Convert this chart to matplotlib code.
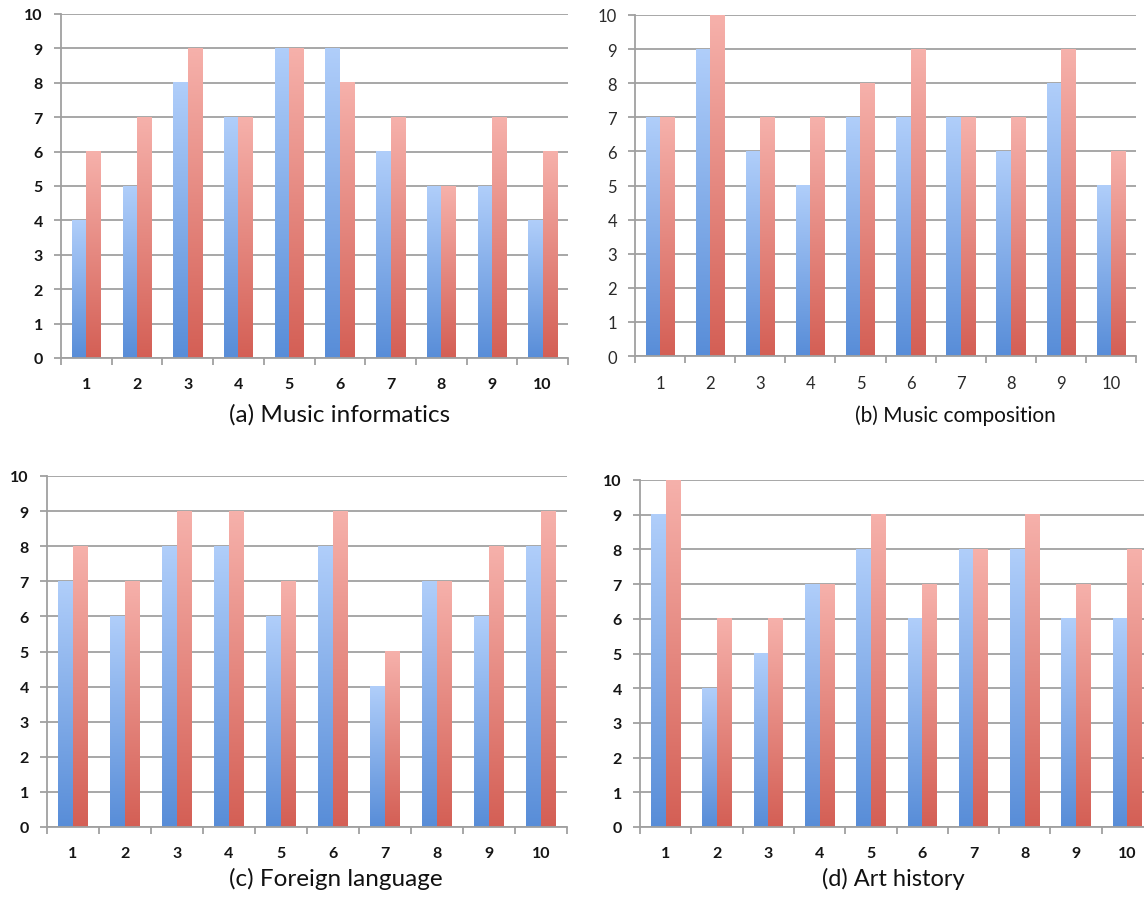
import numpy as np
import matplotlib
matplotlib.use("Agg")
import matplotlib.pyplot as plt
from matplotlib.colors import to_rgb
from matplotlib.ticker import FixedLocator, NullFormatter

# ---- data ----
groups = [1, 2, 3, 4, 5, 6, 7, 8, 9, 10]
captions = ["(a) Music informatics", "(b) Music composition",
            "(c) Foreign language", "(d) Art history"]
a_blue = [4, 5, 8, 7, 9, 9, 6, 5, 5, 4]
a_red = [6, 7, 9, 7, 9, 8, 7, 5, 7, 6]
b_blue = [7, 9, 6, 5, 7, 7, 7, 6, 8, 5]
b_red = [7, 10, 7, 7, 8, 9, 7, 7, 9, 6]
c_blue = [7, 6, 8, 8, 6, 8, 4, 7, 6, 8]
c_red = [8, 7, 9, 9, 7, 9, 5, 7, 8, 9]
d_blue = [9, 4, 5, 7, 8, 6, 8, 8, 6, 6]
d_red = [10, 6, 6, 7, 9, 7, 8, 9, 7, 8]
y_ticks = [0, 1, 2, 3, 4, 5, 6, 7, 8, 9, 10]

W, H = 1144, 903
fig = plt.figure(figsize=(W / 100, H / 100), dpi=100)

def ax_px(left, right, top, bottom):
    return fig.add_axes([left / W, (H - bottom) / H, (right - left) / W, (bottom - top) / H])

BLUE_TOP, BLUE_BOT = to_rgb("#b0cefa"), to_rgb("#588dd8")
RED_TOP, RED_BOT = to_rgb("#f6b1ab"), to_rgb("#d45f55")
GRID = "#a0a0a0"

def gradient(top, bot):
    t = np.linspace(0, 1, 256)[:, None]
    arr = np.zeros((256, 1, 3))
    for k in range(3):
        arr[:, :, k] = bot[k] + (top[k] - bot[k]) * t
    return arr

blue_img = gradient(BLUE_TOP, BLUE_BOT)
red_img = gradient(RED_TOP, RED_BOT)

def panel(ax, blue, red, bold):
    bw = 0.285
    x = np.array(groups, dtype=float)
    bars_b = ax.bar(x - bw / 2, blue, width=bw, facecolor="none", edgecolor="none")
    bars_r = ax.bar(x + bw / 2, red, width=bw, facecolor="none", edgecolor="none")
    for bars, img in ((bars_b, blue_img), (bars_r, red_img)):
        for p in bars:
            x0, y0 = p.get_x(), p.get_y()
            ax.imshow(img, extent=[x0, x0 + p.get_width(), y0, y0 + p.get_height()],
                      origin="lower", aspect="auto", zorder=2, interpolation="bilinear")
    ax.set_xlim(0.5, 10.5)
    ax.set_ylim(0, 10)
    ax.set_aspect("auto")
    ax.set_yticks(y_ticks)
    ax.yaxis.grid(True, color=GRID, linewidth=1.3)
    ax.set_axisbelow(True)
    for s in ("top", "right"):
        ax.spines[s].set_visible(False)
    for s in ("left", "bottom"):
        ax.spines[s].set_color(GRID)
        ax.spines[s].set_linewidth(1.3)
    ax.set_xticks(groups)
    ax.xaxis.set_minor_locator(FixedLocator([g + 0.5 for g in [0] + groups]))
    ax.xaxis.set_minor_formatter(NullFormatter())
    ax.tick_params(axis="x", which="major", length=0, pad=14)
    ax.tick_params(axis="x", which="minor", length=5, width=1.3, color=GRID, direction="out")
    ax.tick_params(axis="y", length=5, width=1.3, color=GRID, pad=8)
    weight = "bold" if bold else "normal"
    col = "#151515" if bold else "#2a2a2a"
    size = 11.5 if bold else 12
    for lab in ax.get_xticklabels() + ax.get_yticklabels():
        lab.set_fontfamily("Lato")
        lab.set_fontsize(size)
        lab.set_fontweight(weight)
        lab.set_color(col)

axA = ax_px(61, 568, 15, 359)
panel(axA, a_blue, a_red, True)
axB = ax_px(635, 1136, 16, 357)
panel(axB, b_blue, b_red, False)
axC = ax_px(47, 567, 477, 828)
panel(axC, c_blue, c_red, True)
axD = ax_px(640, 1153, 481, 828)
panel(axD, d_blue, d_red, True)

cap_pos = [(229, 415, 17.5), (855, 416, 15), (229, 879, 17.5), (822, 879, 17)]
for (cx, cy, fs), txt in zip(cap_pos, captions):
    fig.text(cx / W, (H - cy) / H, txt, ha="left", va="center",
             fontsize=fs, family="Lato", color="#111111")

fig.savefig("out.png", dpi=100)
